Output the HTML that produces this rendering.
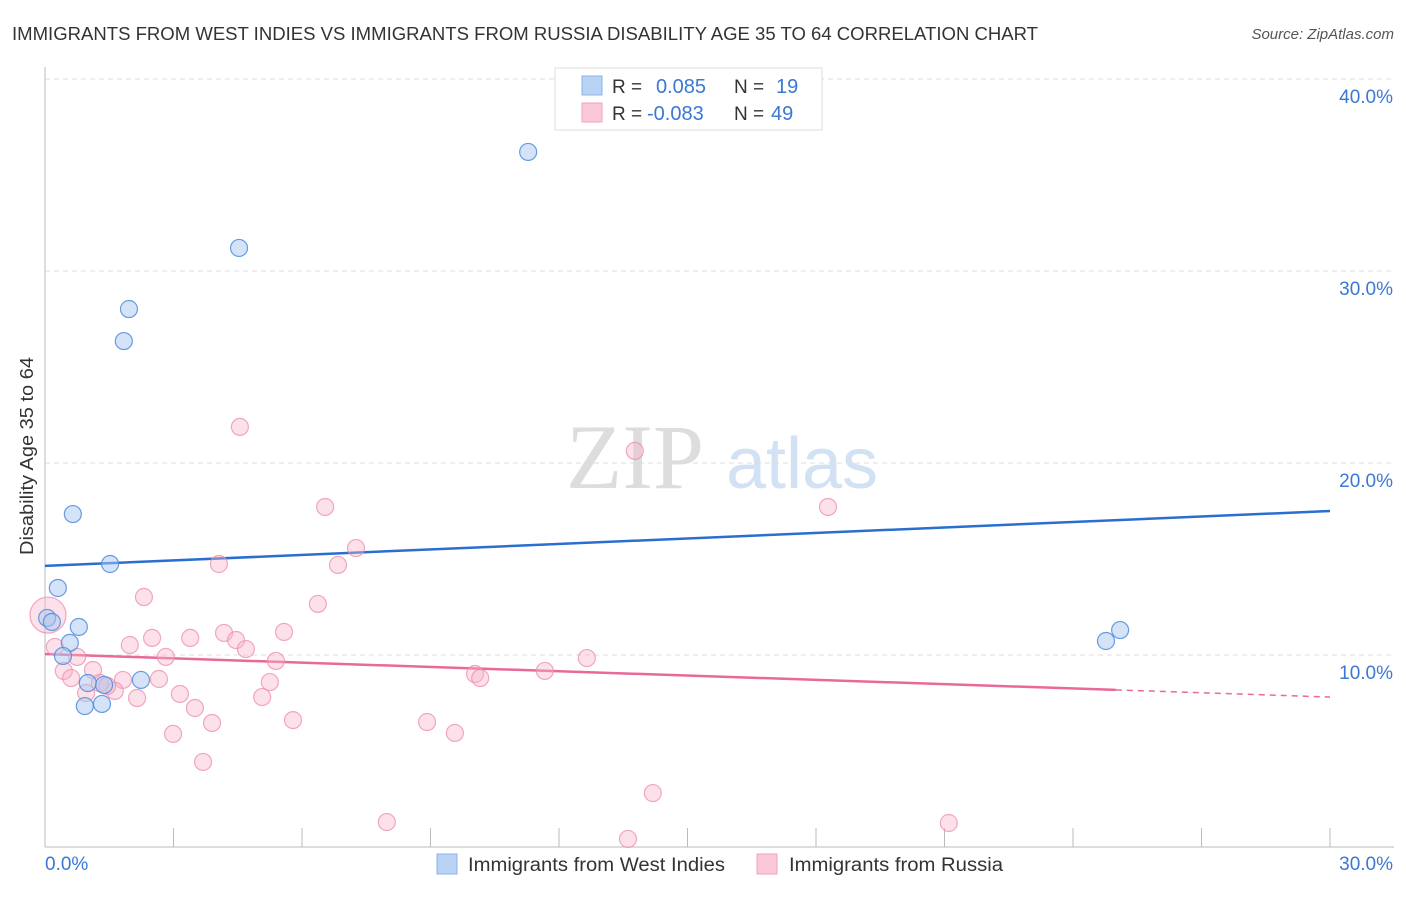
<!DOCTYPE html>
<html><head><meta charset="utf-8"><style>
body{margin:0;background:#fff;font-family:"Liberation Sans",sans-serif;}
</style></head><body>
<svg id="chart" width="1406" height="892" xmlns="http://www.w3.org/2000/svg" font-family="Liberation Sans, sans-serif">
<text x="12" y="40" font-size="18" fill="#333" textLength="1026" lengthAdjust="spacingAndGlyphs">IMMIGRANTS FROM WEST INDIES VS IMMIGRANTS FROM RUSSIA DISABILITY AGE 35 TO 64 CORRELATION CHART</text>
<text x="1394" y="39" font-size="15" fill="#555" text-anchor="end" font-style="italic">Source: ZipAtlas.com</text>
<g>
<text x="635" y="488" font-size="92" fill="#ddd" text-anchor="middle" font-family="Liberation Serif, serif">ZIP</text>
<text x="802" y="488" font-size="72" fill="#d2e2f4" text-anchor="middle">atlas</text>
</g>
<text transform="translate(33,456) rotate(-90)" font-size="18" fill="#333" text-anchor="middle" textLength="198" lengthAdjust="spacingAndGlyphs">Disability Age 35 to 64</text>
<g id="grid"></g><g id="axes"></g><g id="trend"></g><g id="points"></g>
<g>
<rect x="555" y="68" width="267" height="62" fill="#fff" stroke="#ddd"/>
<rect x="582" y="76" width="20" height="19" fill="#b9d3f5" stroke="#8ab3e8"/>
<rect x="582" y="103" width="20" height="19" fill="#fac8d8" stroke="#f0a3bd"/>
<text x="612" y="93" font-size="19" fill="#333">R =</text>
<text x="656" y="93" font-size="20" fill="#3a78d4">0.085</text>
<text x="734" y="93" font-size="19" fill="#333">N =</text>
<text x="776" y="93" font-size="20" fill="#3a78d4">19</text>
<text x="612" y="120" font-size="19" fill="#333">R =</text>
<text x="647" y="120" font-size="20" fill="#3a78d4">-0.083</text>
<text x="734" y="120" font-size="19" fill="#333">N =</text>
<text x="771" y="120" font-size="20" fill="#3a78d4">49</text>
</g>
<g>
<rect x="437" y="854" width="20" height="20" fill="#b9d3f5" stroke="#8ab3e8"/>
<text x="468" y="871" font-size="19" fill="#333" textLength="257" lengthAdjust="spacingAndGlyphs">Immigrants from West Indies</text>
<rect x="757" y="854" width="20" height="20" fill="#fac8d8" stroke="#f0a3bd"/>
<text x="789" y="871" font-size="19" fill="#333" textLength="214" lengthAdjust="spacingAndGlyphs">Immigrants from Russia</text>
</g>
</svg>
<script>
const yTicks=[10,20,30,40];
const yTickLabels=["10.0%","20.0%","30.0%","40.0%"];
const xTicks=[0,3,6,9,12,15,18,21,24,27,30];
const blueX=[11.28,4.53,1.96,1.84,0.65,1.52,0.30,0.05,0.16,0.79,0.58,0.42,1.00,1.38,2.24,0.93,1.33,24.77,25.10];
const blueY=[36.20,31.20,28.02,26.35,17.34,14.74,13.49,11.93,11.72,11.46,10.63,9.95,8.54,8.44,8.70,7.34,7.45,10.73,11.30];
const pinkX=[0.07,4.55,13.77,6.54,18.28,7.26,6.84,4.06,2.31,6.37,5.58,4.18,2.50,4.46,3.39,1.98,4.69,0.23,0.75,2.82,5.39,11.67,12.65,10.04,10.16,0.44,1.12,0.61,2.66,1.28,1.82,5.25,1.63,0.96,3.15,2.15,5.07,3.50,3.90,5.79,8.92,9.57,2.99,3.69,14.19,7.98,21.10,13.61,1.45];
const pinkY=[12.08,21.88,20.63,17.71,17.71,15.57,14.69,14.74,13.02,12.66,11.20,11.15,10.89,10.78,10.89,10.52,10.31,10.42,9.90,9.90,9.69,9.17,9.84,9.01,8.80,9.17,9.22,8.80,8.75,8.54,8.70,8.59,8.13,8.02,7.97,7.76,7.81,7.24,6.46,6.61,6.51,5.94,5.89,4.43,2.81,1.30,1.25,0.42,8.39];
const blueTrend=[14.64,17.50];
const pinkTrend=[10.05,7.81];
const pinkSolidEnd=25.0;
const NS="http://www.w3.org/2000/svg";
const sx=v=>45+v/30*1285;
const sy=v=>847-v*19.2;
function mk(tag,attrs,parent){const e=document.createElementNS(NS,tag);for(const k in attrs)e.setAttribute(k,attrs[k]);parent.appendChild(e);return e;}
const grid=document.getElementById('grid'),axes=document.getElementById('axes'),trend=document.getElementById('trend'),pts=document.getElementById('points');
yTicks.forEach((t,i)=>{
 const l=mk('line',{x1:45,x2:1394,y1:sy(t),y2:sy(t),stroke:'#ddd','stroke-dasharray':'5,4'},grid);
 
 
 const tx=mk('text',{x:1393,y:sy(t)+24,'font-size':19,fill:'#3a78d4','text-anchor':'end'},grid);
 tx.textContent=yTickLabels[i];
 
 
});
const ya=mk('line',{x1:45,x2:45,y1:67,y2:847,stroke:'#bbb'},axes);


const xa=mk('line',{x1:45,x2:1394,y1:847,y2:847,stroke:'#bbb'},axes);


xTicks.forEach(t=>{
 const l=mk('line',{x1:sx(t),x2:sx(t),y1:828,y2:847,stroke:'#bbb'},axes);
 
 
});
const xl0=mk('text',{x:45,y:870,'font-size':19,fill:'#3a78d4'},axes);xl0.textContent='0.0%';


const xl1=mk('text',{x:1393,y:870,'font-size':19,fill:'#3a78d4','text-anchor':'end'},axes);xl1.textContent='30.0%';


const bt=mk('line',{x1:sx(0),y1:sy(blueTrend[0]),x2:sx(30),y2:sy(blueTrend[1]),stroke:'#2a6fd0','stroke-width':2.5},trend);


const pAt=x=>pinkTrend[0]+(pinkTrend[1]-pinkTrend[0])*x/30;
const pt=mk('line',{x1:sx(0),y1:sy(pinkTrend[0]),x2:sx(pinkSolidEnd),y2:sy(pAt(pinkSolidEnd)),stroke:'#e8699a','stroke-width':2.5},trend);


const pd=mk('line',{x1:sx(pinkSolidEnd),y1:sy(pAt(pinkSolidEnd)),x2:sx(30),y2:sy(pinkTrend[1]),stroke:'#e8699a','stroke-width':1.5,'stroke-dasharray':'6,5'},trend);


pinkX.forEach((x,i)=>{
 const c=mk('circle',{cx:sx(x),cy:sy(pinkY[i]),r:i===0?18:8.5,fill:'rgba(248,180,203,0.4)',stroke:'rgba(236,140,172,0.75)','stroke-width':1.2},pts);
 
 
});
blueX.forEach((x,i)=>{
 const c=mk('circle',{cx:sx(x),cy:sy(blueY[i]),r:8.5,fill:'rgba(170,200,240,0.5)',stroke:'rgba(80,140,220,0.85)','stroke-width':1.2},pts);
 
 
});
</script>
</body></html>
